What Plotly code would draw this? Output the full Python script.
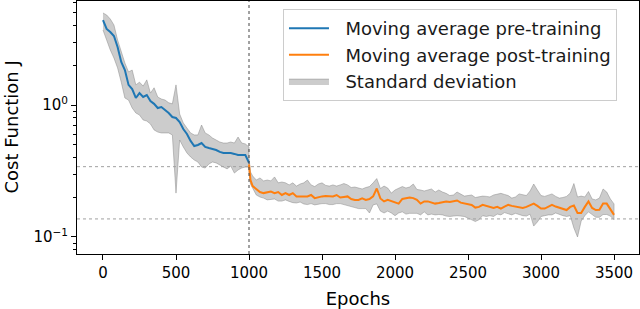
import plotly.graph_objects as go

# ---------------- data ----------------
pre_epochs = list(range(0, 1001, 25))
pre_mean = [4.40, 3.77, 3.57, 3.33, 2.75, 2.12, 1.84, 1.42, 1.32, 1.13,
            1.23, 1.15, 1.19, 1.07, 1.02, 0.949, 0.966, 0.916, 0.870, 0.811,
            0.797, 0.743, 0.658, 0.603, 0.534, 0.489, 0.498, 0.515, 0.481, 0.472,
            0.464, 0.456, 0.441, 0.433, 0.433, 0.433, 0.426, 0.418, 0.418, 0.418,
            0.365]
pre_upper = [4.98, 4.81, 4.48, 4.04, 3.11, 2.52, 2.08, 1.78, 1.84, 1.42,
             1.49, 1.39, 1.55, 1.23, 1.35, 1.15, 1.11, 1.09, 1.04, 1.02,
             1.42, 0.855, 0.731, 0.669, 0.614, 0.593, 0.593, 0.705, 0.614, 0.593,
             0.562, 0.543, 0.524, 0.515, 0.515, 0.524, 0.515, 0.572, 0.515, 0.507,
             0.481]
pre_lower = [3.70, 3.11, 2.61, 2.27, 1.91, 1.49, 1.13, 1.09, 0.949, 0.870,
             0.840, 0.770, 0.756, 0.718, 0.647, 0.624, 0.614, 0.614, 0.614, 0.593,
             0.215, 0.543, 0.481, 0.433, 0.404, 0.383, 0.370, 0.339, 0.333, 0.357,
             0.370, 0.364, 0.351, 0.339, 0.328, 0.345, 0.305, 0.322, 0.333, 0.339,
             0.339]

post_epochs = [1000, 1010] + list(range(1025, 3501, 25))
post_mean = [0.355, 0.270, 0.243, 0.231, 0.219, 0.215, 0.219, 0.221, 0.215, 0.219,
             0.208, 0.215, 0.208, 0.215, 0.203, 0.204, 0.203, 0.203, 0.208, 0.197,
             0.201, 0.203, 0.204, 0.203, 0.203, 0.208, 0.199, 0.201, 0.203, 0.194,
             0.191, 0.191, 0.196, 0.191, 0.194, 0.203, 0.233, 0.196, 0.186, 0.191,
             0.187, 0.184, 0.179, 0.194, 0.196, 0.199, 0.197, 0.191, 0.179, 0.186,
             0.186, 0.182, 0.179, 0.181, 0.184, 0.186, 0.184, 0.186, 0.189, 0.182,
             0.179, 0.178, 0.175, 0.167, 0.169, 0.175, 0.172, 0.170, 0.166, 0.169,
             0.164, 0.170, 0.175, 0.172, 0.170, 0.166, 0.166, 0.169, 0.173, 0.179,
             0.172, 0.164, 0.164, 0.170, 0.175, 0.170, 0.167, 0.164, 0.160, 0.169,
             0.173, 0.152, 0.152, 0.169, 0.186, 0.166, 0.160, 0.161, 0.179, 0.179,
             0.163, 0.147]
post_upper = [0.397, 0.311, 0.290, 0.270, 0.280, 0.266, 0.270, 0.266, 0.285, 0.257,
              0.261, 0.257, 0.248, 0.257, 0.243, 0.252, 0.257, 0.270, 0.248, 0.241,
              0.252, 0.257, 0.246, 0.243, 0.248, 0.243, 0.248, 0.254, 0.248, 0.237,
              0.239, 0.235, 0.231, 0.237, 0.241, 0.257, 0.277, 0.233, 0.243, 0.235,
              0.215, 0.227, 0.233, 0.241, 0.235, 0.239, 0.252, 0.229, 0.227, 0.223,
              0.227, 0.231, 0.219, 0.227, 0.219, 0.214, 0.206, 0.208, 0.219, 0.212,
              0.204, 0.206, 0.208, 0.199, 0.201, 0.204, 0.203, 0.201, 0.208, 0.210,
              0.214, 0.210, 0.206, 0.197, 0.201, 0.212, 0.210, 0.206, 0.223, 0.252,
              0.227, 0.206, 0.203, 0.208, 0.212, 0.203, 0.197, 0.199, 0.203, 0.215,
              0.254, 0.201, 0.204, 0.201, 0.221, 0.194, 0.191, 0.197, 0.231, 0.219,
              0.194, 0.178]
post_lower = [0.311, 0.252, 0.235, 0.208, 0.201, 0.197, 0.191, 0.192, 0.194, 0.187,
              0.187, 0.191, 0.186, 0.182, 0.181, 0.184, 0.178, 0.176, 0.179, 0.175,
              0.178, 0.179, 0.179, 0.176, 0.176, 0.179, 0.179, 0.176, 0.173, 0.170,
              0.167, 0.164, 0.164, 0.164, 0.152, 0.175, 0.178, 0.157, 0.152, 0.157,
              0.152, 0.145, 0.152, 0.155, 0.149, 0.151, 0.152, 0.151, 0.147, 0.155,
              0.147, 0.149, 0.147, 0.148, 0.147, 0.144, 0.143, 0.144, 0.145, 0.144,
              0.143, 0.139, 0.135, 0.131, 0.135, 0.145, 0.143, 0.145, 0.143, 0.149,
              0.147, 0.153, 0.149, 0.147, 0.151, 0.148, 0.145, 0.144, 0.149, 0.121,
              0.130, 0.143, 0.145, 0.147, 0.147, 0.152, 0.149, 0.145, 0.143, 0.145,
              0.117, 0.100, 0.132, 0.145, 0.155, 0.147, 0.141, 0.141, 0.148, 0.148,
              0.144, 0.135]

switch_epoch = 1000
ref_levels = [0.341, 0.137]
x_ticks = [0, 500, 1000, 1500, 2000, 2500, 3000, 3500]
y_major = [0.1, 1]
y_major_text = ["10<sup>\u22121</sup>", "10<sup>0</sup>"]
y_minor = [0.08, 0.09, 0.2, 0.3, 0.4, 0.5, 0.6, 0.7, 0.8, 0.9, 2, 3, 4, 5, 6]
names = ["Moving average pre-training", "Moving average post-training",
         "Standard deviation"]
x_title = "Epochs"
y_title = "Cost Function J"

# ---------------- figure ----------------
FONT = "DejaVu Sans"
PAD = "\u00a0\u00a0"
band_x = pre_epochs + post_epochs
band_up = pre_upper + post_upper
band_lo = pre_lower + post_lower

fig = go.Figure()
fig.add_trace(go.Scatter(
    x=band_x + band_x[::-1], y=band_up + band_lo[::-1],
    fill="toself", fillcolor="rgba(128,128,128,0.4)",
    line=dict(color="rgba(128,128,128,0.45)", width=1),
    mode="lines", name=PAD + names[2], legendrank=3, hoverinfo="skip"))
fig.add_trace(go.Scatter(
    x=pre_epochs, y=pre_mean, mode="lines", name=PAD + names[0],
    line=dict(color="#1f77b4", width=2), legendrank=1))
fig.add_trace(go.Scatter(
    x=post_epochs, y=post_mean, mode="lines", name=PAD + names[1],
    line=dict(color="#ff7f0e", width=2), legendrank=2))

for lv in ref_levels:
    fig.add_shape(type="line", xref="paper", x0=0, x1=1, yref="y", y0=lv, y1=lv,
                  line=dict(color="#a0a0a0", width=1, dash="dot"))
fig.add_shape(type="line", xref="x", x0=switch_epoch, x1=switch_epoch,
              yref="paper", y0=0, y1=1,
              line=dict(color="#444444", width=1, dash="dot"))

fig.add_annotation(text=y_title, xref="paper", yref="paper", x=-0.1174, y=0.5,
                   xanchor="center", yanchor="middle", textangle=-90,
                   showarrow=False, font=dict(family=FONT, size=18, color="black"))

fig.update_layout(
    width=640, height=309,
    margin=dict(l=77, r=1, t=1, b=55),
    paper_bgcolor="white", plot_bgcolor="white",
    font=dict(family=FONT, size=15, color="black"),
    showlegend=True,
    legend=dict(x=0.3665, y=0.968, xanchor="left", yanchor="top",
                font=dict(family=FONT, size=18, color="#1a1a1a"),
                bgcolor="rgba(255,255,255,0.85)", bordercolor="#cccccc",
                borderwidth=1, itemwidth=40, tracegroupgap=4,
                traceorder="normal"),
    xaxis=dict(range=[-178, 3671], tickvals=x_ticks, ticks="outside",
               ticklen=5, tickwidth=1, tickcolor="black", showgrid=False,
               zeroline=False, showline=True, linecolor="black", linewidth=1,
               mirror=True, tickfont=dict(size=15), automargin=False,
               title=dict(text=x_title, font=dict(size=18), standoff=11)),
    yaxis=dict(type="log", range=[-1.129, 0.788], tickvals=y_major,
               ticktext=y_major_text, ticks="outside", ticklen=5, tickwidth=1,
               tickcolor="black", showgrid=False, zeroline=False,
               showline=True, linecolor="black", linewidth=1, mirror=True,
               tickfont=dict(size=15), automargin=False,
               minor=dict(tickvals=y_minor, ticks="outside", ticklen=3,
                          tickwidth=1, tickcolor="black", showgrid=False)),
)

fig.write_html("out.html", config={"displayModeBar": False},
               post_script="document.body.style.margin='0';document.body.style.padding='0';")
